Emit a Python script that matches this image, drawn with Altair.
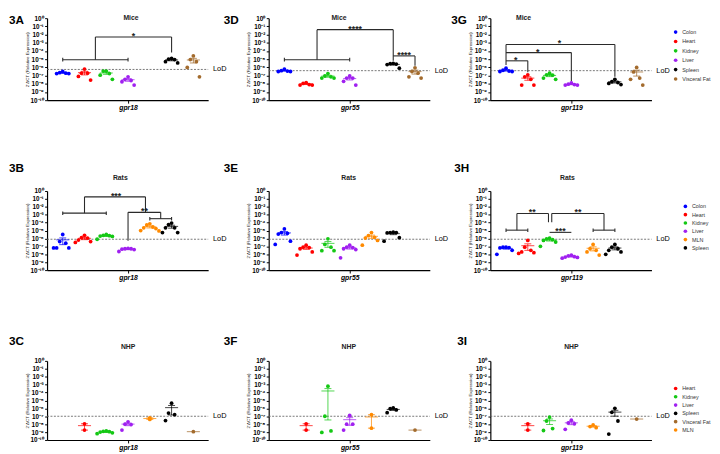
import altair as alt
import numpy as np
import pandas as pd

FONT = "Liberation Sans"

COLORS = {
    "Colon": "#0000FF",
    "Heart": "#FF0000",
    "Kidney": "#14C814",
    "Liver": "#A020F0",
    "Spleen": "#000000",
    "Visceral Fat": "#A36B2D",
    "MLN": "#FF8A00",
}

MICE_POS = {"Colon": 1, "Heart": 2, "Kidney": 3, "Liver": 4, "Spleen": 6, "Visceral Fat": 7}
RAT_POS = {"Colon": 1, "Heart": 2, "Kidney": 3, "Liver": 4, "MLN": 5, "Spleen": 6}
NHP_POS = {"Heart": 2, "Kidney": 3, "Liver": 4, "MLN": 5, "Spleen": 6, "Visceral Fat": 7}

MICE_LEGEND = ["Colon", "Heart", "Kidney", "Liver", "Spleen", "Visceral Fat"]
RAT_LEGEND = ["Colon", "Heart", "Kidney", "Liver", "MLN", "Spleen"]
NHP_LEGEND = ["Heart", "Kidney", "Liver", "Spleen", "Visceral Fat", "MLN"]

Y_TICKS = [1e0, 1e-1, 1e-2, 1e-3, 1e-4, 1e-5, 1e-6, 1e-7, 1e-8, 1e-9, 1e-10]
Y_LABELS = ["10⁰", "10⁻¹", "10⁻²", "10⁻³", "10⁻⁴", "10⁻⁵", "10⁻⁶", "10⁻⁷", "10⁻⁸", "10⁻⁹", "10⁻¹⁰"]
Y_TITLE = "2⁻ΔCT (Relative Expression)"

# ---- log10 expression values ----
A_VALUES = {
    "Colon": [-6.5, -6.65, -6.7, -6.75, -6.75],
    "Heart": [-6.2, -6.7, -6.7, -7.1, -7.55],
    "Kidney": [-6.45, -6.45, -6.75, -6.95, -7.45],
    "Liver": [-7.15, -7.45, -7.6, -7.75, -8.15],
    "Spleen": [-4.9, -5.0, -5.05, -5.3, -5.45],
    "Visceral Fat": [-4.6, -5.05, -5.3, -6.0, -7.15],
}
D_VALUES = {
    "Colon": [-6.2, -6.4, -6.45, -6.5, -6.5],
    "Heart": [-7.85, -7.95, -8.1, -8.15, -8.15],
    "Kidney": [-6.75, -7.05, -7.15, -7.3, -7.3],
    "Liver": [-7.05, -7.3, -7.3, -7.7, -8.15],
    "Spleen": [-5.5, -5.55, -5.6, -5.65, -6.1],
    "Visceral Fat": [-6.05, -6.5, -6.7, -7.15, -7.3],
}
G_VALUES = {
    "Colon": [-6.1, -6.35, -6.45, -6.5, -6.5],
    "Heart": [-6.9, -7.15, -7.45, -8.15, -8.15],
    "Kidney": [-6.7, -6.9, -6.95, -7.3, -7.45],
    "Liver": [-7.9, -8.05, -8.1, -8.15, -8.15],
    "Spleen": [-7.45, -7.75, -7.85, -7.95, -8.1],
    "Visceral Fat": [-6.0, -6.55, -7.3, -7.45, -8.15],
}
B_VALUES = {
    "Colon": [-5.5, -6.4, -6.6, -7.2, -7.2, -7.2],
    "Heart": [-5.6, -5.9, -5.95, -6.2, -6.4, -6.5],
    "Kidney": [-5.5, -5.6, -5.65, -5.7, -5.75, -6.1],
    "Liver": [-7.25, -7.3, -7.3, -7.35, -7.4, -7.65],
    "MLN": [-4.15, -4.3, -4.55, -4.65, -4.75, -5.0, -5.05],
    "Spleen": [-4.05, -4.25, -4.65, -4.65, -5.25, -5.25],
}
E_VALUES = {
    "Colon": [-4.8, -5.25, -5.35, -5.45, -6.35, -6.75],
    "Heart": [-6.85, -7.1, -7.15, -7.3, -7.7, -8.1],
    "Kidney": [-6.05, -6.75, -7.1, -7.55, -7.55],
    "Liver": [-6.85, -7.1, -7.15, -7.3, -7.4, -8.45],
    "MLN": [-5.25, -5.65, -5.85, -5.95, -6.25, -6.85],
    "Spleen": [-5.2, -5.25, -5.25, -5.3, -5.9, -6.35],
}
H_VALUES = {
    "Colon": [-7.1, -7.1, -7.15, -7.2, -7.5, -8.0],
    "Heart": [-6.25, -7.1, -7.5, -7.7, -7.8, -7.9],
    "Kidney": [-5.95, -6.05, -6.15, -6.25, -6.45, -7.0],
    "Liver": [-8.1, -8.2, -8.3, -8.35, -8.4, -8.5],
    "MLN": [-6.75, -7.3, -7.5, -7.7, -8.1],
    "Spleen": [-6.75, -7.1, -7.3, -7.5, -7.7, -8.0],
}
C_VALUES = {
    "Heart": [-7.95, -8.75],
    "Kidney": [-8.85, -8.9, -8.95, -9.0, -9.1, -9.2],
    "Liver": [-7.7, -8.0, -8.05, -8.75],
    "MLN": [-7.2, -7.4],
    "Spleen": [-5.35, -6.6, -6.8, -7.55],
    "Visceral Fat": [-8.95],
}
F_VALUES = {
    "Heart": [-7.95, -8.75],
    "Kidney": [-3.2, -7.0, -8.85, -9.05],
    "Liver": [-6.9, -8.0, -8.0, -8.75],
    "MLN": [-6.8, -8.5],
    "Spleen": [-5.95, -6.05, -6.2, -6.55],
    "Visceral Fat": [-8.75],
}
I_VALUES = {
    "Heart": [-7.95, -8.75],
    "Kidney": [-7.1, -7.6, -8.55, -8.8],
    "Liver": [-7.5, -7.85, -7.95, -8.65],
    "MLN": [-8.1, -8.3, -8.45],
    "Spleen": [-6.0, -6.5, -7.6, -9.25],
    "Visceral Fat": [-7.35],
}

# limits of detection (log10)
LOD_MICE = [-6.25, -6.4, -6.4]
LOD_RATS = [-6.1, -6.1, -6.1]
LOD_NHP = [-7.0, -7.0, -7.0]

# significance brackets: polylines of (group position, log10 value)
A_PATHS = [[(1, -5.06), (4, -5.06)], [(2.5, -5.06), (2.5, -2.3), (6, -2.3), (6, -4.2)]]
A_CAPS = [(1, -5.06), (4, -5.06)]
A_STARS = [(4.25, -2.3, "*")]

D_PATHS = [[(1, -5.06), (4, -5.06)], [(2.5, -5.06), (2.5, -1.4), (6, -1.4), (6, -5.2)],
           [(6, -4.6), (7, -4.6), (7, -5.8)]]
D_CAPS = [(1, -5.06), (4, -5.06)]
D_STARS = [(4.25, -1.4, "****"), (6.5, -4.6, "****")]

G_PATHS = [[(1, -5.7), (1, -3.2), (6, -3.2), (6, -7.15)], [(1, -4.2), (4, -4.2), (4, -7.65)],
           [(1, -5.2), (2, -5.2), (2, -6.6)]]
G_CAPS = []
G_STARS = [(1.45, -5.2, "*"), (2.45, -4.2, "*"), (3.45, -3.2, "*")]

B_PATHS = [[(1, -2.8), (3, -2.8)], [(2, -2.8), (2, -0.74), (4.8, -0.74), (4.8, -2.7)],
           [(4, -6.3), (4, -2.7), (5.5, -2.7), (5.5, -3.5)], [(5, -3.5), (6, -3.5)]]
B_CAPS = [(1, -2.8), (3, -2.8), (5, -3.5), (6, -3.5)]
B_STARS = [(3.45, -0.74, "***"), (4.75, -2.7, "**")]

H_PATHS = [[(1, -4.95), (2, -4.95)], [(5, -4.95), (6, -4.95)], [(3, -5.23), (4, -5.23)],
           [(1.5, -4.95), (1.5, -2.85), (2.95, -2.85), (2.95, -3.95)],
           [(3.1, -3.95), (3.1, -2.85), (5.5, -2.85), (5.5, -4.95)]]
H_CAPS = [(1, -4.95), (2, -4.95), (5, -4.95), (6, -4.95)]
H_STARS = [(2.2, -2.85, "**"), (4.3, -2.85, "**"), (3.5, -5.23, "***")]

X_DOMAIN = [0.28, 7.68]
W = 165
HEIGHTS = [84, 81, 81]

XS = alt.Scale(domain=X_DOMAIN, nice=False, zero=False)
YS = alt.Scale(type="log", domain=[1e-10, 1], nice=False)

LABEL_EXPR = "[" + ",".join(f"'{s}'" for s in Y_LABELS) + "][round(-log(datum.value)/LN10)]"


def offsets(n, step=0.14):
    if n <= 2:
        return [0.0] * n
    return [((i + 1) // 2) * step * (-1 if i % 2 else 1) for i in range(n)]


def make_panel(label, title, gene, values, pos_map, lod, height, paths, caps, stars,
               legend_order, legend_xy, label_xy, title_xy):
    xaxis = alt.Axis(values=[4], labelExpr=f"'{gene}'", title=None, grid=False,
                     domainColor="black", domainWidth=1.2, tickColor="black", tickSize=3,
                     tickWidth=1, labelFont=FONT, labelFontSize=7, labelFontStyle="italic",
                     labelFontWeight="bold", labelColor="black", labelPadding=1, labelFlush=False)
    yaxis = alt.Axis(values=Y_TICKS, labelExpr=LABEL_EXPR, title=Y_TITLE, grid=False,
                     domainColor="black", domainWidth=1.2, tickColor="black", tickSize=2.5,
                     tickWidth=1, labelFont=FONT, labelFontSize=6.5, labelFontWeight="bold",
                     labelColor="black", labelPadding=1.5, labelOverlap=False, labelFlush=False,
                     titleFont=FONT, titleFontSize=4.5, titleFontWeight="normal",
                     titleColor="#222", titlePadding=1)

    def X(f="x"):
        return alt.X(f"{f}:Q", scale=XS, axis=xaxis)

    def Y(f="y"):
        return alt.Y(f"{f}:Q", scale=YS, axis=yaxis)

    dots, segs = [], []
    for t, v in values.items():
        p = pos_map[t]
        vs = sorted(v, reverse=True)
        for val, o in zip(vs, offsets(len(vs))):
            dots.append({"x": p + o, "y": 10 ** val, "tissue": t})
        lin = 10 ** np.array(vs)
        m = lin.mean()
        s = lin.std(ddof=1) / np.sqrt(len(lin)) if len(lin) > 1 else 0.0
        col = COLORS[t]
        segs.append({"x": p - 0.3, "x2": p + 0.3, "y": m, "y2": m, "col": col})
        if s > 0:
            lo = max(m - s, 10 ** -9.95)
            hi = m + s
            segs.append({"x": p, "x2": p, "y": lo, "y2": hi, "col": col})
            segs.append({"x": p - 0.16, "x2": p + 0.16, "y": hi, "y2": hi, "col": col})
            segs.append({"x": p - 0.16, "x2": p + 0.16, "y": lo, "y2": lo, "col": col})
    dots = pd.DataFrame(dots)
    segs = pd.DataFrame(segs)

    br = []
    for path in paths:
        for (x1, y1), (x2, y2) in zip(path[:-1], path[1:]):
            br.append({"x": x1, "x2": x2, "y": 10 ** y1, "y2": 10 ** y2})
    for (cx, cy) in caps:
        br.append({"x": cx, "x2": cx, "y": 10 ** (cy + 0.22), "y2": 10 ** (cy - 0.22)})

    lod_df = pd.DataFrame({"x": [X_DOMAIN[0]], "x2": [X_DOMAIN[1]], "y": [10 ** lod]})
    lod_txt = pd.DataFrame({"x": [X_DOMAIN[1]], "y": [10 ** lod], "t": ["LoD"]})

    order = legend_order if legend_order else list(values.keys())
    color_scale = alt.Scale(domain=order, range=[COLORS[t] for t in order])
    if legend_xy:
        legend = alt.Legend(orient="none", legendX=legend_xy[0], legendY=legend_xy[1],
                            title=None, symbolType="circle", symbolSize=14,
                            symbolStrokeWidth=0, labelFont=FONT, labelFontSize=5.5,
                            labelColor="#333", rowPadding=legend_xy[2], padding=0,
                            labelOffset=4)
        color = alt.Color("tissue:N", legend=legend, scale=color_scale)
    else:
        color = alt.Color("tissue:N", legend=None, scale=color_scale)

    layers = [
        alt.Chart(lod_df).mark_rule(color="#666", strokeDash=[2, 1.5], strokeWidth=0.9)
        .encode(x=X(), x2="x2:Q", y=Y()),
        alt.Chart(lod_txt).mark_text(align="left", dx=5, fontSize=7.5, font=FONT,
                                     baseline="middle", color="black")
        .encode(x=X(), y=Y(), text="t:N"),
        alt.Chart(segs).mark_rule(strokeWidth=1, opacity=0.75)
        .encode(x=X(), x2="x2:Q", y=Y(), y2="y2:Q", stroke=alt.Stroke("col:N", scale=None)),
        alt.Chart(dots).mark_circle(size=15, opacity=1)
        .encode(x=X(), y=Y(), color=color),
    ]
    if br:
        layers.append(alt.Chart(pd.DataFrame(br)).mark_rule(color="#2a2a2a", strokeWidth=1.1)
                      .encode(x=X(), x2="x2:Q", y=Y(), y2="y2:Q"))
    if stars:
        sdf = pd.DataFrame([{"x": a, "y": 10 ** b, "t": c} for a, b, c in stars])
        layers.append(alt.Chart(sdf).mark_text(fontSize=9, fontWeight="bold", font=FONT,
                                               baseline="alphabetic", dy=2, color="#222")
                      .encode(x=X(), y=Y(), text="t:N"))
    layers.append(alt.Chart(pd.DataFrame({"t": [label]}))
                  .mark_text(align="left", baseline="top", fontSize=12,
                             fontWeight="bold", font=FONT, color="black")
                  .encode(text="t:N", x=alt.value(label_xy[0]), y=alt.value(label_xy[1])))
    layers.append(alt.Chart(pd.DataFrame({"t": [title]}))
                  .mark_text(align="center", baseline="top", fontSize=7,
                             fontWeight="bold", font=FONT, color="#222")
                  .encode(text="t:N", x=alt.value(title_xy[0]), y=alt.value(title_xy[1])))
    return alt.layer(*layers).properties(width=W, height=height)


pA = make_panel("3A", "Mice", "gpr18", A_VALUES, MICE_POS, LOD_MICE[0], HEIGHTS[0],
                A_PATHS, A_CAPS, A_STARS, None, None, (-39, -3), (86, -4))
pD = make_panel("3D", "Mice", "gpr55", D_VALUES, MICE_POS, LOD_MICE[1], HEIGHTS[0],
                D_PATHS, D_CAPS, D_STARS, None, None, (-46, -3), (72, -4))
pG = make_panel("3G", "Mice", "gpr119", G_VALUES, MICE_POS, LOD_MICE[2], HEIGHTS[0],
                G_PATHS, G_CAPS, G_STARS, MICE_LEGEND, (187, 11.5, 2.6), (-40, -3), (34, -4))

pB = make_panel("3B", "Rats", "gpr18", B_VALUES, RAT_POS, LOD_RATS[0], HEIGHTS[1],
                B_PATHS, B_CAPS, B_STARS, None, None, (-39, -28.5), (75, -17))
pE = make_panel("3E", "Rats", "gpr55", E_VALUES, RAT_POS, LOD_RATS[1], HEIGHTS[1],
                [], [], [], None, None, (-46, -28.5), (82, -17))
pH = make_panel("3H", "Rats", "gpr119", H_VALUES, RAT_POS, LOD_RATS[2], HEIGHTS[1],
                H_PATHS, H_CAPS, H_STARS, RAT_LEGEND, (197, 13, 1.5), (-37, -28.5), (79, -17))

pC = make_panel("3C", "NHP", "gpr18", C_VALUES, NHP_POS, LOD_NHP[0], HEIGHTS[2],
                [], [], [], None, None, (-39, -25.5), (83, -18))
pF = make_panel("3F", "NHP", "gpr55", F_VALUES, NHP_POS, LOD_NHP[1], HEIGHTS[2],
                [], [], [], None, None, (-46, -25.5), (82, -18))
pI = make_panel("3I", "NHP", "gpr119", I_VALUES, NHP_POS, LOD_NHP[2], HEIGHTS[2],
                [], [], [], NHP_LEGEND, (187, 25.5, 1.5), (-34, -25.5), (83, -18))

chart = (
    alt.concat(pA, pD, pG, pB, pE, pH, pC, pF, pI, columns=3,
               spacing={"row": 93, "column": 62}, bounds="flush")
    .resolve_scale(color="independent")
    .properties(padding=0, background="white")
    .configure_view(stroke="transparent")
)

chart.save("out.html", embed_options={"renderer": "svg", "actions": False})
